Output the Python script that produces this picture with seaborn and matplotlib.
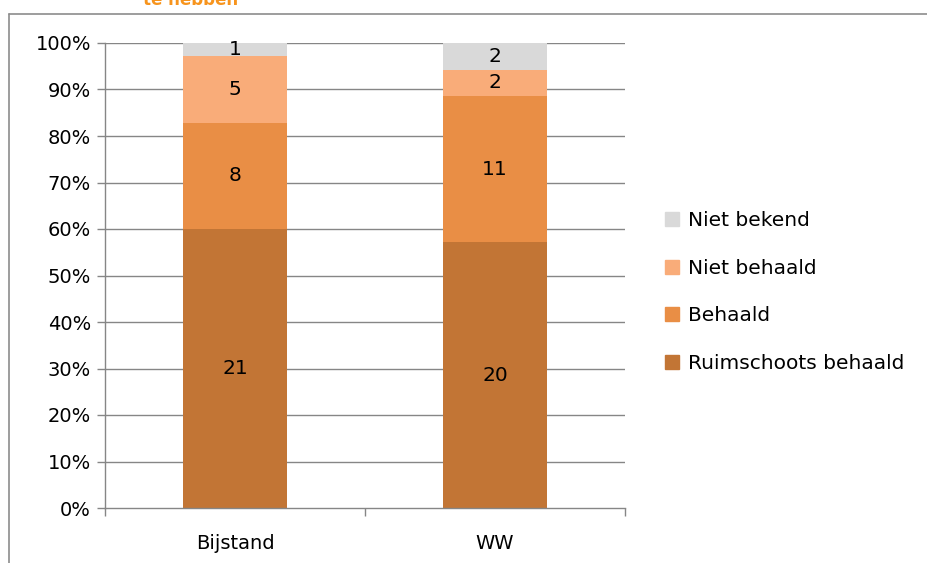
import numpy as np
import pandas as pd
import matplotlib.pyplot as plt
import matplotlib.patches as mpatches
from matplotlib.lines import Line2D
import seaborn as sns

# data
categories = ["Bijstand", "WW"]
statuses = ["Ruimschoots behaald", "Behaald", "Niet behaald", "Niet bekend"]
counts_bijstand = [21, 8, 5, 1]
counts_ww = [20, 11, 2, 2]
status_colors = ["#C27535", "#E98E45", "#F9AC79", "#D9D9D9"]
yticks = [0, 10, 20, 30, 40, 50, 60, 70, 80, 90, 100]

counts = np.array([counts_bijstand, counts_ww], dtype=float)
pct = counts / counts.sum(axis=1, keepdims=True) * 100
cum = np.cumsum(pct, axis=1)

sns.set_style("white")
plt.rcParams["font.family"] = ["DejaVu Sans"]
plt.rcParams["text.color"] = "black"
plt.rcParams["xtick.color"] = "black"
plt.rcParams["ytick.color"] = "black"

fig = plt.figure(figsize=(9.27, 5.63), dpi=100)
ax = fig.add_axes([105 / 927, 1 - 508 / 563, 520 / 927, 465 / 563])

grid_col = "#868686"
for y in yticks[1:]:
    ax.axhline(y, color=grid_col, lw=1, zorder=0)

# overlapping cumulative bars, tallest first
for j in reversed(range(len(statuses))):
    df = pd.DataFrame({"cat": categories, "val": cum[:, j]})
    sns.barplot(data=df, x="cat", y="val", color=status_colors[j],
                width=0.4, saturation=1, ax=ax, zorder=2, linewidth=0)

# segment labels
for i in range(len(categories)):
    lower = 0
    for j in range(len(statuses)):
        mid = lower + pct[i, j] / 2
        ax.text(i, mid, f"{int(counts[i, j])}", ha="center", va="center",
                fontsize=14.5, color="black", zorder=3)
        lower = cum[i, j]

ax.set_xlim(-0.5, 1.5)
ax.set_ylim(0, 100)
ax.set_yticks(yticks)
ax.set_yticklabels([f"{y}%" for y in yticks], fontsize=14)
ax.set_xticks([-0.5, 0.5, 1.5])
ax.set_xticklabels([])
ax.tick_params(axis="both", which="major", direction="out", length=6,
               color=grid_col, labelcolor="black", width=1,
               left=True, bottom=True, pad=4)
for i, c in enumerate(categories):
    ax.text(i, -7.7, c, ha="center", va="center", fontsize=14,
            clip_on=False)
ax.set_xlabel("")
ax.set_ylabel("")
for s in ["top", "right"]:
    ax.spines[s].set_visible(False)
for s in ["left", "bottom"]:
    ax.spines[s].set_color(grid_col)
    ax.spines[s].set_linewidth(1)

# legend
handles = [mpatches.Patch(color=status_colors[j], label=statuses[j])
           for j in reversed(range(len(statuses)))]
fig.legend(handles=handles, loc="center left",
           bbox_to_anchor=(647 / 927, 1 - 292 / 563), frameon=False,
           fontsize=14.5, handlelength=0.7, handleheight=0.7,
           handletextpad=0.45, labelspacing=1.42)

# chart frame and clipped title
fig.add_artist(Line2D([9 / 927, 1], [1 - 14 / 563] * 2, color="#8C8C8C",
                      lw=1.2, transform=fig.transFigure))
fig.add_artist(Line2D([9 / 927] * 2, [0, 1 - 14 / 563], color="#8C8C8C",
                      lw=1.2, transform=fig.transFigure))
fig.text(191 / 927, 1 - 5 / 563, "te hebben", ha="center", va="baseline",
         fontsize=12, fontweight="bold", color="#F7941D")

fig.savefig("out.png", dpi=100)
